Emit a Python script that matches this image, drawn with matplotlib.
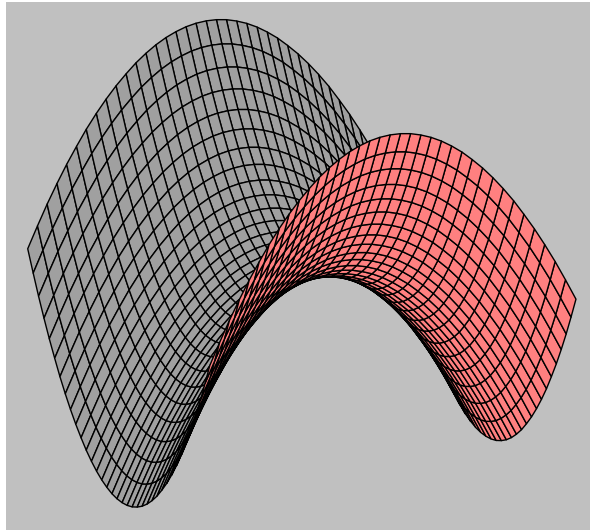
import numpy as np
import matplotlib
matplotlib.use("Agg")
import matplotlib.pyplot as plt
from matplotlib.patches import Rectangle
from mpl_toolkits.mplot3d import proj3d

# Grid positions along each side of the sheet
x_grid = [-1.0, -0.944, -0.889, -0.833, -0.778, -0.722, -0.667, -0.611, -0.556, -0.5,
          -0.444, -0.389, -0.333, -0.278, -0.222, -0.167, -0.111, -0.056, 0.0,
          0.056, 0.111, 0.167, 0.222, 0.278, 0.333, 0.389, 0.444, 0.5, 0.556, 0.611,
          0.667, 0.722, 0.778, 0.833, 0.889, 0.944, 1.0]
y_grid = list(x_grid)
# Height contribution read along the valley edge and along the arch edge
valley_profile = [1.0, 0.892, 0.79, 0.694, 0.605, 0.522, 0.444, 0.373, 0.309, 0.25,
                  0.198, 0.151, 0.111, 0.077, 0.049, 0.028, 0.012, 0.003, 0.0,
                  0.003, 0.012, 0.028, 0.049, 0.077, 0.111, 0.151, 0.198, 0.25, 0.309,
                  0.373, 0.444, 0.522, 0.605, 0.694, 0.79, 0.892, 1.0]
arch_profile = list(valley_profile)

BG = "#c0c0c0"
TOP = "#a0a0a0"
UNDER = "#ff8080"

W, H = 592, 532
fig = plt.figure(figsize=(W / 100, H / 100), dpi=100, facecolor="white")
fig.add_artist(Rectangle((6 / W, 2 / H), 584 / W, 528 / H, transform=fig.transFigure,
                         facecolor=BG, edgecolor="none", zorder=-5))

cx, cy = 293, 282
side = 600
ax = fig.add_axes([(cx - side / 2) / W, 1 - (cy + side / 2) / H, side / W, side / H],
                  projection="3d")
ax.patch.set_alpha(0)
ax.set_proj_type("persp", focal_length=10)
ax.view_init(elev=19, azim=-26.4, roll=1.0)
ax.set_xlim(-1, 1)
ax.set_ylim(-1, 1)
ax.set_zlim(-1, 1)
ax.set_box_aspect((1, 1, 1.015), zoom=1.15)
ax.set_axis_off()

X, Y = np.meshgrid(x_grid, y_grid, indexing="ij")
Z = np.subtract.outer(np.array(valley_profile), np.array(arch_profile))

fig.canvas.draw()
px, py, _ = proj3d.proj_transform(X.ravel(), Y.ravel(), Z.ravel(), ax.get_proj())
px = px.reshape(X.shape)
py = py.reshape(X.shape)
area = ((px[1:, :-1] - px[:-1, :-1]) * (py[1:, 1:] - py[:-1, :-1])
        - (py[1:, :-1] - py[:-1, :-1]) * (px[1:, 1:] - px[:-1, :-1]))
colors = np.empty(area.shape + (4,))
colors[area > 0] = matplotlib.colors.to_rgba(TOP)
colors[area <= 0] = matplotlib.colors.to_rgba(UNDER)

ax.plot_surface(X, Y, Z, rstride=1, cstride=1, facecolors=colors, shade=False,
                edgecolor="black", linewidth=1.0, antialiased=True)

fig.savefig("out.png", dpi=100, facecolor="white")
